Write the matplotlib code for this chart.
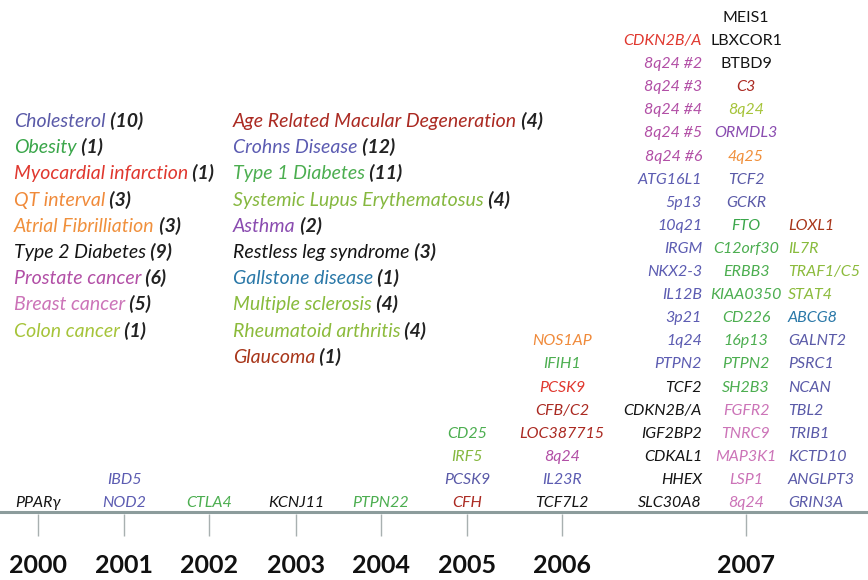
import matplotlib.pyplot as plt

years = ['2000', '2001', '2002', '2003', '2004', '2005', '2006', '2007']

traits_left = ['Cholesterol', 'Obesity', 'Myocardial infarction', 'QT interval',
               'Atrial Fibrilliation', 'Type 2 Diabetes', 'Prostate cancer',
               'Breast cancer', 'Colon cancer']
counts_left = [10, 1, 1, 3, 3, 9, 6, 5, 1]

traits_mid = ['Age Related Macular Degeneration', 'Crohns Disease', 'Type 1 Diabetes',
              'Systemic Lupus Erythematosus', 'Asthma', 'Restless leg syndrome',
              'Gallstone disease', 'Multiple sclerosis', 'Rheumatoid arthritis', 'Glaucoma']
counts_mid = [4, 12, 11, 4, 2, 3, 1, 4, 4, 1]

# loci per year, listed bottom to top, with the trait of each
genes_2000 = ['PPARγ']
trait_2000 = ['Type 2 Diabetes']
genes_2001 = ['NOD2', 'IBD5']
trait_2001 = ['Crohns Disease', 'Crohns Disease']
genes_2002 = ['CTLA4']
trait_2002 = ['Type 1 Diabetes']
genes_2003 = ['KCNJ11']
trait_2003 = ['Type 2 Diabetes']
genes_2004 = ['PTPN22']
trait_2004 = ['Type 1 Diabetes']
genes_2005 = ['CFH', 'PCSK9', 'IRF5', 'CD25']
trait_2005 = ['Age Related Macular Degeneration', 'Cholesterol',
              'Systemic Lupus Erythematosus', 'Type 1 Diabetes']
genes_2006 = ['TCF7L2', 'IL23R', '8q24', 'LOC387715', 'CFB/C2', 'PCSK9', 'IFIH1', 'NOS1AP']
trait_2006 = ['Type 2 Diabetes', 'Crohns Disease', 'Prostate cancer',
              'Age Related Macular Degeneration', 'Age Related Macular Degeneration',
              'Myocardial infarction', 'Type 1 Diabetes', 'QT interval']

genes_2007a = ['SLC30A8', 'HHEX', 'CDKAL1', 'IGF2BP2', 'CDKN2B/A', 'TCF2', 'PTPN2',
               '1q24', '3p21', 'IL12B', 'NKX2-3', 'IRGM', '10q21', '5p13', 'ATG16L1',
               '8q24 #6', '8q24 #5', '8q24 #4', '8q24 #3', '8q24 #2', 'CDKN2B/A']
trait_2007a = ['Type 2 Diabetes'] * 6 + ['Crohns Disease'] * 9 + ['Prostate cancer'] * 5 \
    + ['Myocardial infarction']
genes_2007b = ['8q24', 'LSP1', 'MAP3K1', 'TNRC9', 'FGFR2', 'SH2B3', 'PTPN2', '16p13',
               'CD226', 'KIAA0350', 'ERBB3', 'C12orf30', 'FTO', 'GCKR', 'TCF2', '4q25',
               'ORMDL3', '8q24', 'C3', 'BTBD9', 'LBXCOR1', 'MEIS1']
trait_2007b = ['Breast cancer'] * 5 + ['Type 1 Diabetes'] * 7 + ['Obesity', 'Cholesterol',
               'Cholesterol', 'Atrial Fibrilliation', 'Asthma', 'Colon cancer',
               'Age Related Macular Degeneration'] + ['Restless leg syndrome'] * 3
genes_2007c = ['GRIN3A', 'ANGLPT3', 'KCTD10', 'TRIB1', 'TBL2', 'NCAN', 'PSRC1', 'GALNT2',
               'ABCG8', 'STAT4', 'TRAF1/C5', 'IL7R', 'LOXL1']
trait_2007c = ['Cholesterol'] * 8 + ['Gallstone disease', 'Rheumatoid arthritis',
               'Rheumatoid arthritis', 'Multiple sclerosis', 'Glaucoma']

colours = {
    'Cholesterol': '#5a5aa8', 'Obesity': '#3aa64a', 'Myocardial infarction': '#e0382f',
    'QT interval': '#f08a3a', 'Atrial Fibrilliation': '#f0903c',
    'Type 2 Diabetes': '#141414', 'Prostate cancer': '#b24fa6', 'Breast cancer': '#cc74b8',
    'Colon cancer': '#a6c43a', 'Age Related Macular Degeneration': '#ab2a22',
    'Crohns Disease': '#5c5cb2', 'Type 1 Diabetes': '#4cae50',
    'Systemic Lupus Erythematosus': '#86b840', 'Asthma': '#8a4cb0',
    'Restless leg syndrome': '#141414', 'Gallstone disease': '#2a78a8',
    'Multiple sclerosis': '#88bb3c', 'Rheumatoid arthritis': '#8cbb3c',
    'Glaucoma': '#a8361a',
}

plt.rcParams['font.family'] = ['Lato', 'DejaVu Sans']

fig = plt.figure(figsize=(8.68, 5.8), dpi=100)
ax = fig.add_axes([0, 0, 1, 1])
ax.set_xlim(0, 868)
ax.set_ylim(580, 0)
ax.axis('off')

# layout (pixels)
year_x = [38, 124, 209, 296, 381, 467, 562, 746]
line_y = 512
row0 = 507
row_h = 23.1
gene_fs = 11.5
leg_fs = 14


def legend_block(x, names, counts):
    for i, (name, n) in enumerate(zip(names, counts)):
        t = ax.text(x, 127 + i * 26.2, name, color=colours[name], fontsize=leg_fs,
                    style='italic', va='baseline')
        ax.annotate(f' ({n})', xy=(1, 0), xycoords=t, va='bottom', ha='left',
                    fontsize=leg_fs, style='italic', fontweight='bold', color='#222222')


legend_block(14, traits_left, counts_left)
legend_block(233, traits_mid, counts_mid)


def gene_column(x, genes, traits, ha='center'):
    for i, (g, tr) in enumerate(zip(genes, traits)):
        upright = tr == 'Restless leg syndrome'
        ax.text(x, row0 - i * row_h, g, color=colours[tr], fontsize=gene_fs,
                style='normal' if upright else 'italic', ha=ha, va='baseline')


columns = [(genes_2000, trait_2000), (genes_2001, trait_2001), (genes_2002, trait_2002),
           (genes_2003, trait_2003), (genes_2004, trait_2004), (genes_2005, trait_2005),
           (genes_2006, trait_2006)]
for x, (g, tr) in zip(year_x, columns):
    gene_column(x, g, tr)

gene_column(year_x[7] - 44, genes_2007a, trait_2007a, ha='right')
gene_column(year_x[7], genes_2007b, trait_2007b)
gene_column(year_x[7] + 42, genes_2007c, trait_2007c, ha='left')

# timeline
ax.axhline(line_y, color='#8c9c9c', lw=2.2)
ax.vlines(year_x, line_y + 2, line_y + 24, color='#a8b0b0', lw=1)
for x, yr in zip(year_x, years):
    ax.text(x, 573, yr, fontsize=18, fontweight='bold', ha='center', va='baseline',
            color='#111111')

fig.savefig('out.png', dpi=100)
